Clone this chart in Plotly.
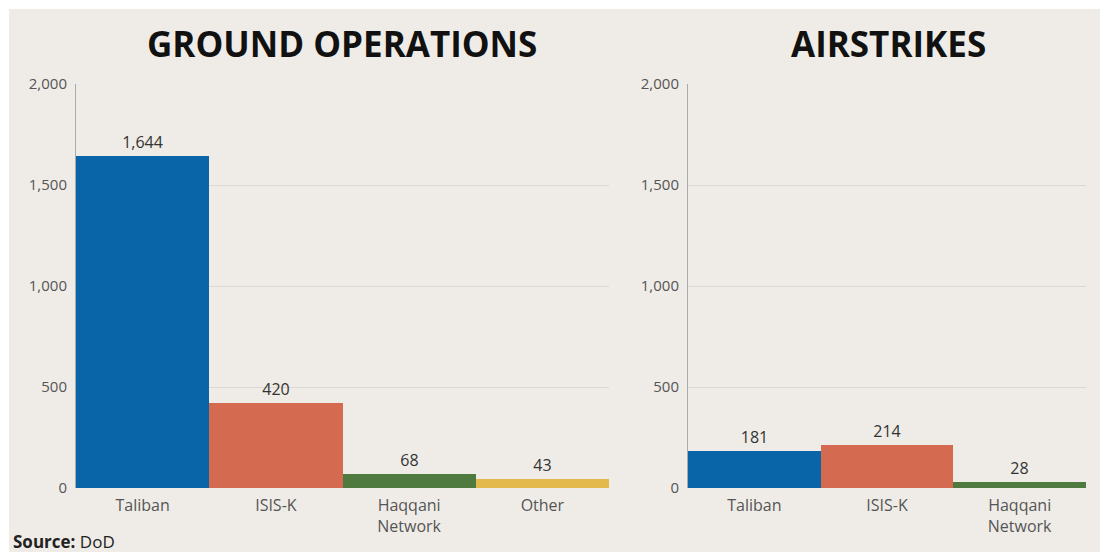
import plotly.graph_objects as go

ground_cats = ["Taliban", "ISIS-K", "Haqqani<br>Network", "Other"]
ground_vals = [1644, 420, 68, 43]
ground_colors = ["#0a65a8", "#d46a50", "#4f7a3f", "#e3b94b"]

air_cats = ["Taliban", "ISIS-K", "Haqqani<br>Network"]
air_vals = [181, 214, 28]
air_colors = ["#0a65a8", "#d46a50", "#4f7a3f"]

y_ticks = [0, 500, 1000, 1500, 2000]
y_tick_labels = ["0", "500", "1,000", "1,500", "2,000"]

BG = "#efece7"
FONT = "Open Sans"

W, H = 1100, 552
T, B = 84, 488          # y pixel of 2000 and 0
PH = B - T


def px(x):
    return x / W


def py(y):
    return (B - y) / PH


fig = go.Figure()
fig.add_trace(go.Bar(x=ground_cats, y=ground_vals, marker=dict(color=ground_colors, line=dict(width=0)),
                     text=[f"{v:,}" for v in ground_vals], textposition="outside",
                     textfont=dict(size=16, color="#333", family=FONT), cliponaxis=False,
                     xaxis="x", yaxis="y", showlegend=False))
fig.add_trace(go.Bar(x=air_cats, y=air_vals, marker=dict(color=air_colors, line=dict(width=0)),
                     text=[f"{v:,}" for v in air_vals], textposition="outside",
                     textfont=dict(size=16, color="#333", family=FONT), cliponaxis=False,
                     xaxis="x2", yaxis="y2", showlegend=False))

yax = dict(range=[0, 2000], tickvals=y_ticks, ticktext=y_tick_labels, showgrid=True,
           gridcolor="#dcd9d3", gridwidth=1, showline=True, linecolor="#aaa", linewidth=1,
           tickfont=dict(size=15, color="#555", family=FONT), ticks="", zeroline=False,
           ticklabelstandoff=5, fixedrange=True)
xax = dict(showgrid=False, showline=False, ticks="", tickfont=dict(size=16, color="#555", family=FONT),
           ticklabelstandoff=6, fixedrange=True)

fig.update_layout(
    width=W, height=H,
    margin=dict(l=0, r=0, t=T, b=H - B),
    paper_bgcolor=BG, plot_bgcolor="rgba(0,0,0,0)",
    bargap=0,
    xaxis=dict(domain=[px(76), px(609)], anchor="y", **xax),
    yaxis=dict(domain=[0, 1], anchor="x", **yax),
    xaxis2=dict(domain=[px(688), px(1086)], anchor="y2", **xax),
    yaxis2=dict(domain=[0, 1], anchor="x2", **yax),
    shapes=[
        dict(type="rect", xref="paper", yref="paper", x0=-0.05, x1=1.05,
             y0=py(9), y1=py(-20), fillcolor="white", line=dict(width=0), layer="below"),
        dict(type="rect", xref="paper", yref="paper", x0=-0.05, x1=px(9),
             y0=py(600), y1=py(-20), fillcolor="white", line=dict(width=0), layer="below"),
    ],
    annotations=[
        dict(text="<b>GROUND OPERATIONS</b>", xref="paper", yref="paper", x=px(342),
             y=py(44), showarrow=False, font=dict(size=35, color="#111", family=FONT),
             xanchor="center", yanchor="middle"),
        dict(text="<b>AIRSTRIKES</b>", xref="paper", yref="paper", x=px(888),
             y=py(44), showarrow=False, font=dict(size=35, color="#111", family=FONT),
             xanchor="center", yanchor="middle"),
        dict(text="<b>Source:</b> DoD", xref="paper", yref="paper", x=px(11),
             y=py(541), showarrow=False, font=dict(size=17, color="#222", family=FONT),
             xanchor="left", yanchor="middle"),
    ],
)

fig.write_html("out.html", config={"displayModeBar": False},
               post_script="document.body.style.margin='0';document.body.style.overflow='hidden';")
